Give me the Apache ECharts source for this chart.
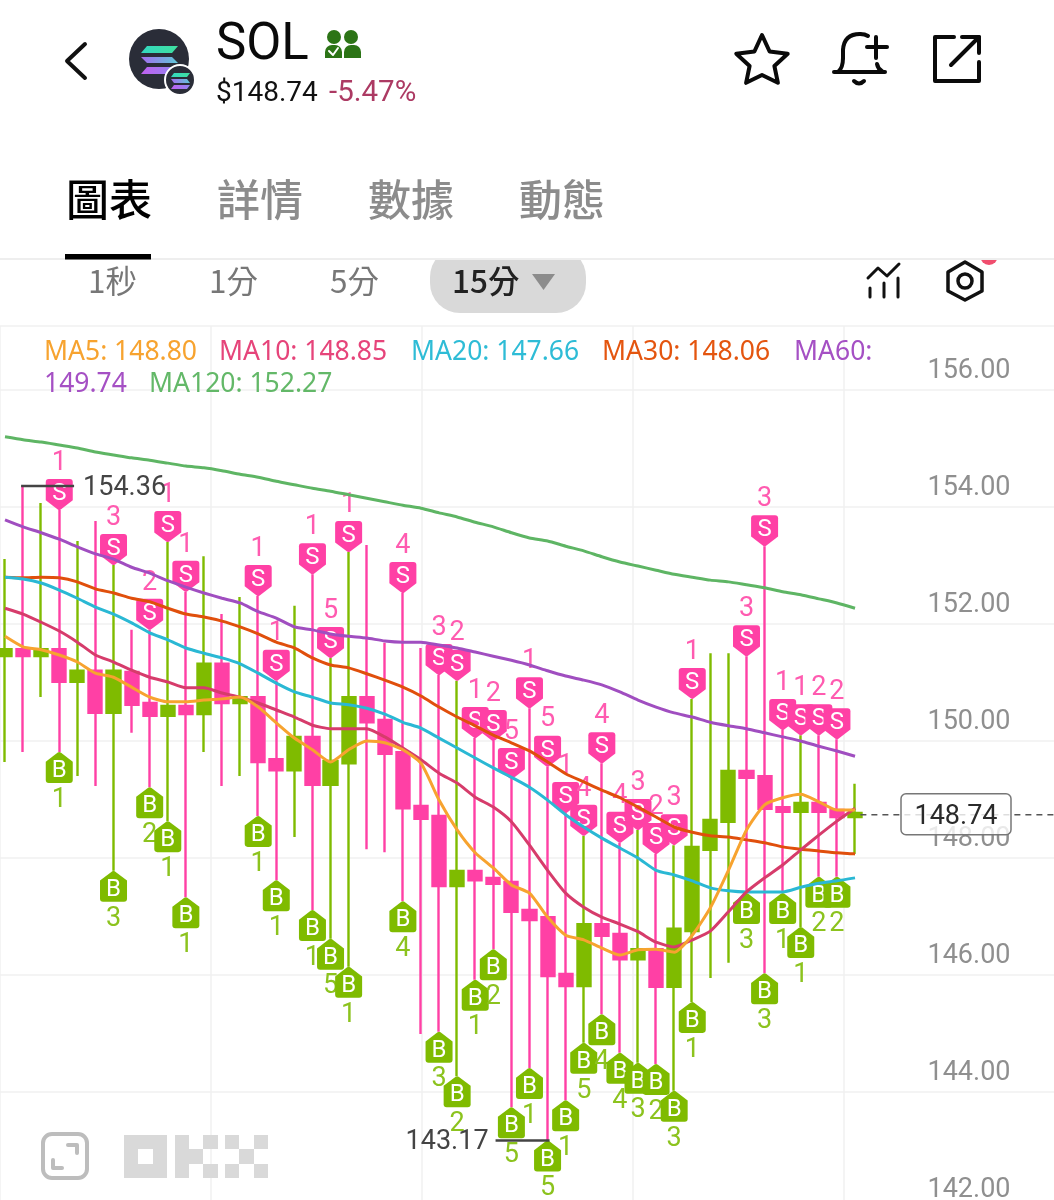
<!DOCTYPE html>
<html>
<head>
<meta charset="utf-8">
<title>SOL</title>
<script src="https://cdn.jsdelivr.net/npm/echarts@6/dist/echarts.min.js"></script>
<style>
html, body { margin: 0; padding: 0; background: #fff; }
#chart { width: 1054px; height: 1200px; }
</style>
</head>
<body>
<div id="chart"></div>
<script>
// candles, one per 15 min bar
var opens = [151.45,151.57,151.45,151.57,151.01,151.20,150.48,151.18,150.65,150.43,150.60,150.46,151.32,150.65,150.75,149.69,149.50,150.07,149.25,149.62,150.75,150.36,149.81,148.89,148.72,147.52,147.78,147.66,147.59,147.11,146.99,146.02,145.81,146.87,146.70,146.27,146.44,145.80,146.75,148.14,148.62,149.49,149.40,148.87,148.79,148.94,148.82,148.70];
var closes = [151.57,151.45,151.57,151.01,151.20,150.48,151.20,150.62,150.43,150.60,150.46,151.32,150.65,150.75,149.64,149.50,150.07,149.25,149.66,150.75,150.32,149.78,148.85,148.67,147.52,147.78,147.62,147.56,147.08,146.94,145.98,145.81,146.87,146.67,146.27,146.44,145.80,146.79,148.19,148.65,149.49,149.37,148.84,148.79,148.94,148.79,148.70,148.77];
var lows = [149.64,149.81,150.75,149.81,149.40,149.23,147.78,150.14,149.21,148.63,147.33,149.81,149.23,149.40,148.72,147.62,148.36,147.11,146.62,146.14,148.15,148.10,147.26,144.99,145.03,144.27,145.92,146.44,143.74,144.41,143.17,143.86,144.84,145.33,144.67,144.50,144.48,144.02,145.54,145.95,146.21,147.40,146.03,147.40,146.82,147.68,147.68,148.07];
var highs = [153.11,154.36,154.07,153.95,153.42,153.76,153.01,151.90,151.90,153.40,152.55,153.16,152.17,152.46,152.48,151.03,152.31,152.85,151.42,153.23,153.35,151.68,152.53,151.59,151.13,151.03,150.05,150.00,149.35,150.56,149.56,148.77,148.38,149.62,148.26,148.48,148.07,148.22,150.72,151.50,151.50,151.45,153.33,150.19,150.10,150.10,150.03,149.27];

// S / B trade tags, null where the candle has none
var sellCounts = [null,null,null,1,null,null,3,null,2,1,1,null,null,null,1,1,null,1,5,1,null,null,4,null,3,2,1,2,5,1,5,1,4,4,4,3,2,3,1,null,null,3,3,1,1,2,2,null];
var buyCounts = [null,null,null,1,null,null,3,null,2,1,1,null,null,null,1,1,null,1,5,1,null,null,4,null,3,2,1,2,5,1,5,1,5,4,4,3,2,3,1,null,null,3,3,1,1,2,2,null];

// moving averages
var ma5 = [151.79,151.61,151.56,151.47,151.35,151.16,151.09,150.92,150.75,150.67,150.67,150.70,150.72,150.75,150.58,150.31,150.05,149.85,149.64,149.85,150.00,149.97,149.85,149.62,148.99,148.48,148.09,147.83,147.54,147.40,146.99,146.68,146.60,146.46,146.34,146.43,146.44,146.39,146.68,147.15,147.79,148.48,148.91,149.03,149.09,148.96,148.82,148.82];
var ma10 = [152.27,152.17,152.03,151.88,151.69,151.47,151.35,151.21,151.09,151.01,150.91,150.91,150.82,150.75,150.65,150.53,150.41,150.27,150.21,150.21,150.21,150.07,149.88,149.68,149.45,149.28,149.04,148.87,148.62,148.22,147.79,147.40,147.16,146.99,146.87,146.74,146.56,146.48,146.60,146.75,147.08,147.42,147.66,147.88,148.14,148.39,148.63,148.85];
var ma20 = [152.80,152.77,152.70,152.58,152.44,152.29,152.17,152.02,151.85,151.73,151.59,151.50,151.42,151.32,151.16,150.99,150.84,150.75,150.65,150.62,150.56,150.46,150.32,150.22,150.05,149.88,149.71,149.54,149.38,149.21,148.99,148.74,148.53,148.34,148.17,148.00,147.79,147.71,147.61,147.49,147.44,147.42,147.42,147.42,147.50,147.57,147.61,147.66];
var ma30 = [152.80,152.79,152.80,152.79,152.72,152.60,152.53,152.44,152.38,152.27,152.17,152.12,152.05,151.95,151.83,151.69,151.59,151.42,151.30,151.25,151.15,151.04,150.92,150.77,150.58,150.41,150.26,150.10,149.97,149.83,149.64,149.44,149.30,149.16,149.03,148.87,148.70,148.53,148.44,148.38,148.36,148.31,148.26,148.19,148.15,148.12,148.09,148.07];
var ma60 = [153.78,153.66,153.56,153.45,153.32,153.20,153.11,152.97,152.87,152.74,152.63,152.53,152.44,152.36,152.21,152.10,151.95,151.90,151.83,151.79,151.76,151.71,151.69,151.69,151.64,151.59,151.52,151.45,151.38,151.30,151.20,151.11,151.04,150.96,150.84,150.70,150.58,150.48,150.41,150.32,150.26,150.21,150.14,150.07,150.00,149.91,149.83,149.74];
var ma120 = [155.20,155.15,155.11,155.06,155.01,154.94,154.89,154.84,154.80,154.75,154.70,154.67,154.62,154.56,154.51,154.44,154.38,154.32,154.27,154.21,154.15,154.09,154.03,153.98,153.90,153.83,153.74,153.66,153.56,153.47,153.42,153.33,153.25,153.15,153.06,152.99,152.92,152.85,152.80,152.75,152.72,152.67,152.62,152.55,152.50,152.43,152.36,152.27];

var lastPrice = 148.74;
var changeText = '-5.47%';
var tabNames = ['圖表', '詳情', '數據', '動態'];
var periodNames = ['1秒', '1分', '5分', '15分'];
var maLegend = ['MA5: 148.80', 'MA10: 148.85', 'MA20: 147.66', 'MA30: 148.06', 'MA60:', '149.74', 'MA120: 152.27'];

var GREEN = '#7fbb00', PINK = '#ff40a5';
var NUM_FONT = 'Roboto, "Noto Sans", sans-serif';
var CJK_FONT = '"Noto Sans CJK TC", sans-serif';
var LEGEND_FONT = '"Noto Sans", sans-serif';
var categories = opens.map(function (v, i) { return i; });

var S_PATH = 'M3 0H24Q27 0 27 3V21L15 30Q13.5 31 12 30L0 21V3Q0 0 3 0Z';
var B_PATH = 'M12 1Q13.5 0 15 1L27 10V28Q27 31 24 31H3Q0 31 0 28V10Z';

// tag with the letter and the trade count, hung on the candle's high or low
function tagRenderer(isSell) {
    return function (params, api) {
        var pt = api.coord([api.value(0), api.value(1)]);
        var x = pt[0], y = pt[1];
        var boxTop = isSell ? y - 31 : y;
        return {
            type: 'group',
            children: [
                {
                    type: 'text',
                    style: {
                        text: String(api.value(2)), x: x, y: isSell ? y - 47 : y + 48,
                        fill: isSell ? '#ff5bb0' : '#8cc31e', font: '27px ' + NUM_FONT,
                        textAlign: 'center', textVerticalAlign: 'middle'
                    }
                },
                {
                    type: 'path',
                    shape: { pathData: isSell ? S_PATH : B_PATH, x: x - 13.5, y: boxTop, width: 27, height: 31, layout: 'cover' },
                    style: { fill: isSell ? PINK : GREEN }
                },
                {
                    type: 'text',
                    style: {
                        text: isSell ? 'S' : 'B', x: x, y: isSell ? y - 16 : y + 19,
                        fill: '#fff', font: '24px ' + NUM_FONT,
                        textAlign: 'center', textVerticalAlign: 'middle'
                    }
                }
            ]
        };
    };
}

function tagData(counts, prices) {
    return counts.map(function (n, i) { return [i, prices[i], n]; })
        .filter(function (d) { return d[2] !== null; });
}

function maSeries(name, data, color) {
    return {
        name: name, type: 'line', data: data, xAxisIndex: 0, yAxisIndex: 0,
        symbol: 'none', z: 4, silent: true, smooth: 0.2,
        lineStyle: { color: color, width: 3 }
    };
}

// header helpers
function txt(x, y, text, size, color, font, weight, align) {
    return {
        type: 'text', x: x, y: y,
        style: {
            text: text, fill: color, fontSize: size, fontFamily: font, fontWeight: weight || 'normal',
            align: align || 'left', verticalAlign: 'middle'
        }
    };
}
function box(x, y, w, h, color, r) {
    return { type: 'rect', shape: { x: x, y: y, width: w, height: h, r: r || 0 }, style: { fill: color } };
}
function poly(points, color, width) {
    return {
        type: 'polyline', shape: { points: points },
        style: { stroke: color, lineWidth: width, fill: null, lineCap: 'round', lineJoin: 'round' }
    };
}
function curve(x1, y1, cx, cy, x2, y2, color, width) {
    return {
        type: 'bezierCurve', shape: { x1: x1, y1: y1, cpx1: cx, cpy1: cy, x2: x2, y2: y2 },
        style: { stroke: color, lineWidth: width, fill: null, lineCap: 'round' }
    };
}
function solBar(points, from, to) {
    return {
        type: 'polygon', shape: { points: points },
        style: { fill: new echarts.graphic.LinearGradient(0, 0, 1, 0, [{ offset: 0, color: from }, { offset: 1, color: to }]) }
    };
}

var graphicEls = [
    // period row sits under the tab row, so the pill and dot get cut by the white cover
    box(430, 247, 156, 66, '#d9d9d9', 30),
    { type: 'circle', shape: { cx: 989, cy: 256, r: 9 }, style: { fill: '#f04e6e' } },
    box(0, 0, 1054, 259, '#fff'),
    box(0, 258, 1054, 2, '#eeeeee'),

    poly([[85, 44], [67, 61], [85, 78]], '#111', 4),

    { type: 'circle', shape: { cx: 159, cy: 59, r: 30 }, style: { fill: '#2a2d38' } },
    solBar([[147, 46], [178, 46], [172, 53], [141, 53]], '#34d8c0', '#3fe0a0'),
    solBar([[141, 57], [172, 57], [178, 63], [147, 63]], '#a56cf0', '#5fc8d8'),
    solBar([[147, 67], [178, 67], [172, 74], [141, 74]], '#c060f0', '#8f86f0'),
    { type: 'circle', shape: { cx: 180, cy: 80, r: 15 }, style: { fill: '#2a2d38', stroke: '#fff', lineWidth: 2 } },
    solBar([[174, 73], [190, 73], [187, 77], [171, 77]], '#34d8c0', '#3fe0a0'),
    solBar([[171, 79], [187, 79], [190, 83], [174, 83]], '#a56cf0', '#5fc8d8'),
    solBar([[174, 85], [190, 85], [187, 89], [171, 89]], '#c060f0', '#8f86f0'),

    txt(216, 46, 'SOL', 51, '#0a0a0a', NUM_FONT),
    { type: 'circle', shape: { cx: 334, cy: 37, r: 7 }, style: { fill: '#2c7416' } },
    { type: 'circle', shape: { cx: 351, cy: 37, r: 7 }, style: { fill: '#2c7416' } },
    box(325, 45, 17, 13, '#2c7416', [7, 7, 0, 0]),
    box(344, 45, 17, 13, '#2c7416', [7, 7, 0, 0]),
    poly([[329, 51], [333, 55], [338, 48]], '#fff', 2),
    txt(216, 94, '$148.74', 28, '#111', NUM_FONT),
    txt(329, 94, changeText, 29.5, '#ac3a63', NUM_FONT),

    // star, bell, share
    {
        type: 'polygon',
        shape: { points: [[762, 35], [769.6, 51.5], [787.7, 53.7], [774.4, 66], [777.9, 82.8], [762, 75], [746.1, 82.8], [749.6, 66], [736.3, 53.7], [754.4, 51.5]] },
        style: { stroke: '#0a0a0a', lineWidth: 4, fill: null, lineJoin: 'round' }
    },
    poly([[834, 72], [885, 72]], '#0a0a0a', 4),
    curve(838, 72, 843, 68, 843, 58, '#0a0a0a', 4),
    poly([[843, 58], [843, 50]], '#0a0a0a', 4),
    curve(843, 50, 844, 34, 860, 34, '#0a0a0a', 4),
    curve(860, 34, 865, 34, 868, 36, '#0a0a0a', 4),
    curve(877, 64, 878, 69, 882, 71, '#0a0a0a', 4),
    poly([[867, 47], [887, 47]], '#0a0a0a', 4),
    poly([[876, 37], [876, 58]], '#0a0a0a', 4),
    curve(854, 81, 859, 86, 864, 81, '#0a0a0a', 4),
    poly([[954, 37], [935, 37], [935, 81], [979, 81], [979, 62]], '#0a0a0a', 4),
    poly([[962, 37], [979, 37], [979, 53]], '#0a0a0a', 4),
    poly([[979, 37], [951, 65]], '#0a0a0a', 4),

    // period row icons
    poly([[868, 278], [878, 268], [887, 276], [899, 264]], '#111', 3),
    poly([[870, 288], [870, 297]], '#111', 3),
    poly([[884, 283], [884, 297]], '#111', 3),
    poly([[898, 278], [898, 297]], '#111', 3),
    {
        type: 'polygon', shape: { points: [[965, 262], [982, 272], [982, 291], [965, 300], [948, 291], [948, 272]] },
        style: { stroke: '#111', lineWidth: 3.5, fill: null, lineJoin: 'round' }
    },
    { type: 'circle', shape: { cx: 965, cy: 281, r: 7 }, style: { stroke: '#111', lineWidth: 3.5, fill: null } },

    // tabs and periods
    txt(66, 200, tabNames[0], 43, '#000', CJK_FONT, 500),
    txt(217, 200, tabNames[1], 43, '#8c8c8c', CJK_FONT, 500),
    txt(368, 200, tabNames[2], 43, '#8c8c8c', CJK_FONT, 500),
    txt(519, 200, tabNames[3], 43, '#8c8c8c', CJK_FONT, 500),
    box(65, 254, 86, 5.5, '#000'),
    txt(88, 281, periodNames[0], 31.5, '#777', CJK_FONT),
    txt(209, 281, periodNames[1], 31.5, '#777', CJK_FONT),
    txt(330, 281, periodNames[2], 31.5, '#777', CJK_FONT),
    txt(452, 281, periodNames[3], 31.5, '#222', CJK_FONT, 500),
    { type: 'polygon', shape: { points: [[532, 274], [555, 274], [543.5, 290]] }, style: { fill: '#8c8c8c' } },

    // MA values above the plot
    txt(44, 352, maLegend[0], 26.5, '#f7a32f', LEGEND_FONT),
    txt(219, 352, maLegend[1], 26.5, '#e6447a', LEGEND_FONT),
    txt(411, 352, maLegend[2], 26.5, '#2ebcd6', LEGEND_FONT),
    txt(602, 352, maLegend[3], 26.5, '#e4550f', LEGEND_FONT),
    txt(794, 352, maLegend[4], 26.5, '#a550c4', LEGEND_FONT),
    txt(44, 384, maLegend[5], 26.5, '#a550c4', LEGEND_FONT),
    txt(149, 384, maLegend[6], 26.5, '#63b868', LEGEND_FONT),

    // expand button and watermark
    {
        type: 'rect', shape: { x: 43, y: 1134, width: 44, height: 44, r: 9 },
        style: { stroke: '#bdbdbd', lineWidth: 4, fill: null }
    },
    poly([[68, 1145], [77, 1145], [77, 1153]], '#bdbdbd', 4),
    poly([[53, 1160], [53, 1168], [62, 1168]], '#bdbdbd', 4),
    box(124, 1135, 43, 43, '#d9d9d9'),
    box(138, 1149, 15, 15, '#fff'),
    box(175, 1135, 14, 43, '#d9d9d9'),
    box(189, 1149, 14, 15, '#d9d9d9'),
    box(203, 1135, 15, 14, '#d9d9d9'),
    box(203, 1164, 15, 14, '#d9d9d9'),
    box(225, 1135, 14, 14, '#d9d9d9'),
    box(254, 1135, 14, 14, '#d9d9d9'),
    box(239, 1149, 15, 15, '#d9d9d9'),
    box(225, 1164, 14, 14, '#d9d9d9'),
    box(254, 1164, 14, 14, '#d9d9d9')
];
// keep the header and legend text above the split lines
graphicEls.forEach(function (el) { el.z = 1; });

var chart = echarts.init(document.getElementById('chart'));

chart.setOption({
    animation: false,
    backgroundColor: '#fff',
    graphic: { elements: graphicEls },
    grid: [
        // candles: bands of 18.085px so the first one is centred on x=5
        { left: -4.04, top: 326, width: 868.1, height: 883, outerBoundsMode: 'none' },
        // full width grid behind it for the split lines and price labels
        { left: -0.5, top: 326, width: 1055, height: 883, outerBoundsMode: 'none' }
    ],
    xAxis: [
        { type: 'category', gridIndex: 0, data: categories, show: false, boundaryGap: true },
        {
            type: 'value', gridIndex: 1, min: 0, max: 5, interval: 1,
            axisLine: { show: false }, axisTick: { show: false }, axisLabel: { show: false },
            splitLine: { show: true, lineStyle: { color: '#f0f0f0', width: 1.5 } }
        }
    ],
    yAxis: [
        { type: 'value', gridIndex: 0, min: 142, max: 157.094, interval: 2, show: false, splitLine: { show: false } },
        {
            type: 'value', gridIndex: 1, min: 142, max: 157.094, interval: 2, position: 'right',
            axisLine: { show: false }, axisTick: { show: false },
            splitLine: { show: true, lineStyle: { color: '#f0f0f0', width: 1.5 } },
            axisLabel: {
                inside: true, margin: 44, showMaxLabel: false, showMinLabel: true,
                color: '#8f8f8f', fontSize: 27, fontFamily: NUM_FONT, verticalAlign: 'bottom',
                lineHeight: 30, padding: [0, 0, 4, 0],
                formatter: function (v) { return v.toFixed(2); }
            }
        }
    ],
    series: [
        {
            type: 'candlestick', xAxisIndex: 0, yAxisIndex: 0, z: 2, silent: true,
            barWidth: 13.6,
            data: opens.map(function (o, i) { return [o, closes[i], lows[i], highs[i]]; }),
            itemStyle: { color: GREEN, color0: PINK, borderColor: GREEN, borderColor0: PINK, borderWidth: 2.4 }
        },
        {
            type: 'custom', xAxisIndex: 0, yAxisIndex: 0, z: 3, silent: true, clip: false,
            data: tagData(sellCounts, highs), encode: { x: 0, y: 1 }, renderItem: tagRenderer(true)
        },
        {
            type: 'custom', xAxisIndex: 0, yAxisIndex: 0, z: 3, silent: true, clip: false,
            data: tagData(buyCounts, lows), encode: { x: 0, y: 1 }, renderItem: tagRenderer(false)
        },
        maSeries('MA120', ma120, '#5eb564'),
        maSeries('MA60', ma60, '#a04ec0'),
        maSeries('MA30', ma30, '#e04f0c'),
        maSeries('MA20', ma20, '#2ab8d4'),
        maSeries('MA10', ma10, '#d63c6b'),
        maSeries('MA5', ma5, '#f7a32f'),
        {
            // highest and lowest price flags
            type: 'custom', xAxisIndex: 0, yAxisIndex: 0, z: 5, silent: true, clip: false,
            data: [[1, 154.36], [30, 143.17]], encode: { x: 0, y: 1 },
            renderItem: function (params, api) {
                var pt = api.coord([api.value(0), api.value(1)]);
                var isHigh = params.dataIndex === 0;
                var x1 = isHigh ? pt[0] - 2 : pt[0] - 52;
                var x2 = isHigh ? pt[0] + 51 : pt[0] + 2;
                return {
                    type: 'group',
                    children: [
                        { type: 'line', shape: { x1: x1, y1: pt[1], x2: x2, y2: pt[1] }, style: { stroke: '#444', lineWidth: 2.5 } },
                        {
                            type: 'text',
                            style: {
                                text: api.value(1).toFixed(2), x: isHigh ? x2 + 9 : x1 - 7, y: pt[1] + 2,
                                fill: '#444', font: '27px ' + NUM_FONT,
                                textAlign: isHigh ? 'left' : 'right', textVerticalAlign: 'middle'
                            }
                        }
                    ]
                };
            }
        },
        {
            // last price dashed line and its box
            type: 'custom', xAxisIndex: 1, yAxisIndex: 1, z: 6, silent: true, clip: false,
            data: [[4.08, lastPrice]], encode: { x: 0, y: 1 },
            renderItem: function (params, api) {
                var pt = api.coord([api.value(0), api.value(1)]);
                return {
                    type: 'group',
                    children: [
                        {
                            type: 'line', shape: { x1: pt[0], y1: pt[1], x2: 1054, y2: pt[1] },
                            style: { stroke: '#555', lineWidth: 1.5, lineDash: [6, 5] }
                        },
                        {
                            type: 'rect', shape: { x: 901, y: pt[1] - 21, width: 110, height: 41, r: 5 },
                            style: { fill: 'rgba(255,255,255,0.8)', stroke: '#777', lineWidth: 1.5 }
                        },
                        {
                            type: 'text',
                            style: {
                                text: api.value(1).toFixed(2), x: 956, y: pt[1] + 3,
                                fill: '#2a2a2a', font: '27px ' + NUM_FONT,
                                textAlign: 'center', textVerticalAlign: 'middle'
                            }
                        }
                    ]
                };
            }
        }
    ]
});
</script>
</body>
</html>
